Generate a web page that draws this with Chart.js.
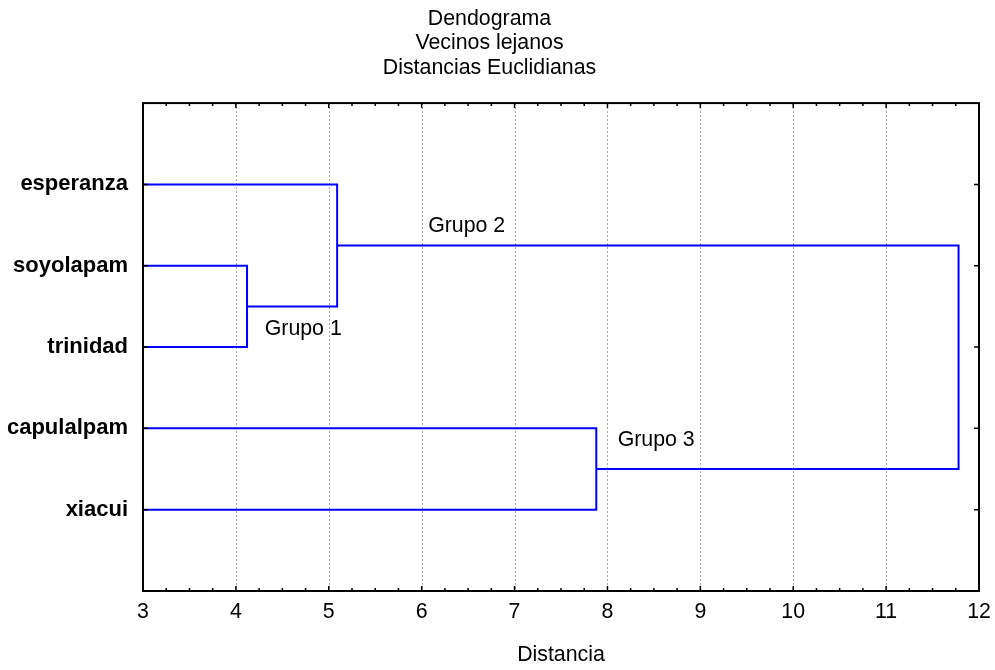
<!DOCTYPE html>
<html>
<head>
<meta charset="utf-8">
<script src="https://cdn.jsdelivr.net/npm/chart.js@4/dist/chart.umd.min.js"></script>
<style>
html,body{margin:0;padding:0;background:#fff;}
#wrap{width:995px;height:670px;}
</style>
</head>
<body>
<div id="wrap"><canvas id="c" width="995" height="670"></canvas></div>
<script>
// ---- data ----
const titleLines = ['Dendograma', 'Vecinos lejanos', 'Distancias Euclidianas'];
const leaves = ['esperanza', 'soyolapam', 'trinidad', 'capulalpam', 'xiacui'];
const mergeA = ['soyolapam', 'esperanza', 'capulalpam', 'm2'];
const mergeB = ['trinidad', 'm1', 'xiacui', 'm3'];
const mergeHeight = [4.12, 5.09, 7.88, 11.78];
const xTicks = [3, 4, 5, 6, 7, 8, 9, 10, 11, 12];
const groupLabels = ['Grupo 1', 'Grupo 2', 'Grupo 3'];
const groupX = [4.31, 6.07, 8.11];
const groupY = [2.78, 1.51, 4.15];
const xAxisTitle = 'Distancia';

const xMin = 3, xMax = 12;
const FS = 21.33;

// ---- build dendrogram segments from the tree ----
const nodes = {};
leaves.forEach((n, i) => { nodes[n] = { y: i + 1, h: xMin }; });
const datasets = [];
mergeHeight.forEach((H, i) => {
  const a = nodes[mergeA[i]], b = nodes[mergeB[i]];
  datasets.push({
    data: [{x: a.h, y: a.y}, {x: H, y: a.y}, {x: H, y: b.y}, {x: b.h, y: b.y}],
    showLine: true, borderColor: '#0000ff', borderWidth: 2, pointRadius: 0, tension: 0, fill: false
  });
  nodes['m' + (i + 1)] = { y: (a.y + b.y) / 2, h: H };
});

Chart.defaults.font.family = "'Liberation Sans', Arial, sans-serif";
Chart.defaults.color = '#000';

const framePlugin = {
  id: 'frame',
  beforeDatasetsDraw(chart) {
    const {ctx, chartArea: ca, scales: {x}} = chart;
    ctx.save();
    ctx.strokeStyle = '#a8a8a8';
    ctx.lineWidth = 1;
    ctx.setLineDash([2, 2]);
    xTicks.forEach(v => {
      if (v === xMin || v === xMax) return;
      const px = Math.round(x.getPixelForValue(v)) + 0.5;
      ctx.beginPath(); ctx.moveTo(px, ca.top); ctx.lineTo(px, ca.bottom); ctx.stroke();
    });
    ctx.restore();
  },
  afterDatasetsDraw(chart) {
    const {ctx, chartArea: ca, scales: {x, y}} = chart;
    ctx.save();
    ctx.strokeStyle = '#000';
    ctx.lineWidth = 2;
    ctx.setLineDash([]);
    ctx.strokeRect(ca.left, ca.top, ca.right - ca.left, ca.bottom - ca.top);
    ctx.lineWidth = 1.5;
    for (let i = 0; i < xTicks.length - 1; i++) {
      for (let q = 0; q < 4; q++) {
        const v = xTicks[i] + (xTicks[i + 1] - xTicks[i]) * q / 4;
        const len = q === 0 ? 5 : 3;
        const px = x.getPixelForValue(v);
        ctx.beginPath();
        ctx.moveTo(px, ca.bottom); ctx.lineTo(px, ca.bottom - len);
        ctx.moveTo(px, ca.top); ctx.lineTo(px, ca.top + len);
        ctx.stroke();
      }
    }
    leaves.forEach((n, i) => {
      const py = y.getPixelForValue(i + 1);
      ctx.beginPath();
      ctx.moveTo(ca.left, py); ctx.lineTo(ca.left + 5, py);
      ctx.moveTo(ca.right, py); ctx.lineTo(ca.right - 5, py);
      ctx.stroke();
    });
    ctx.fillStyle = '#000';
    ctx.font = FS + "px 'Liberation Sans', Arial, sans-serif";
    ctx.textAlign = 'left';
    ctx.textBaseline = 'middle';
    groupLabels.forEach((t, i) => {
      ctx.fillText(t, x.getPixelForValue(groupX[i]), y.getPixelForValue(groupY[i]));
    });
    ctx.restore();
  }
};

new Chart(document.getElementById('c'), {
  type: 'scatter',
  data: { datasets },
  plugins: [framePlugin],
  options: {
    responsive: false,
    animation: false,
    layout: { padding: { left: 0, right: 16, top: 0, bottom: 0 } },
    plugins: {
      legend: { display: false },
      tooltip: { enabled: false },
      title: {
        display: true,
        text: titleLines,
        color: '#000',
        font: { size: FS, weight: 'normal', lineHeight: 1.15 },
        padding: { top: 6.5, bottom: 23 }
      }
    },
    scales: {
      x: {
        type: 'linear', min: xMin, max: xMax,
        afterFit: s => { s.height = 79; s.paddingLeft = 0; s.paddingRight = 0; },
        afterBuildTicks: s => { s.ticks = xTicks.map(v => ({ value: v })); },
        grid: { display: false, drawTicks: false },
        border: { display: false },
        ticks: { color: '#000', font: { size: FS }, padding: 8, autoSkip: false, maxRotation: 0 },
        title: { display: true, text: xAxisTitle, color: '#000', font: { size: FS }, padding: { top: 0, bottom: 2 } }
      },
      y: {
        type: 'linear', min: 0, max: leaves.length + 1, reverse: true,
        afterFit: s => { s.width = 143; s.paddingTop = 0; s.paddingBottom = 0; },
        afterBuildTicks: s => { s.ticks = leaves.map((n, i) => ({ value: i + 1 })); },
        grid: { display: false, drawTicks: false },
        border: { display: false },
        ticks: {
          color: '#000', font: { size: 22, weight: 'bold' }, padding: 15, autoSkip: false,
          callback: v => leaves[v - 1]
        }
      }
    }
  }
});
</script>
</body>
</html>
